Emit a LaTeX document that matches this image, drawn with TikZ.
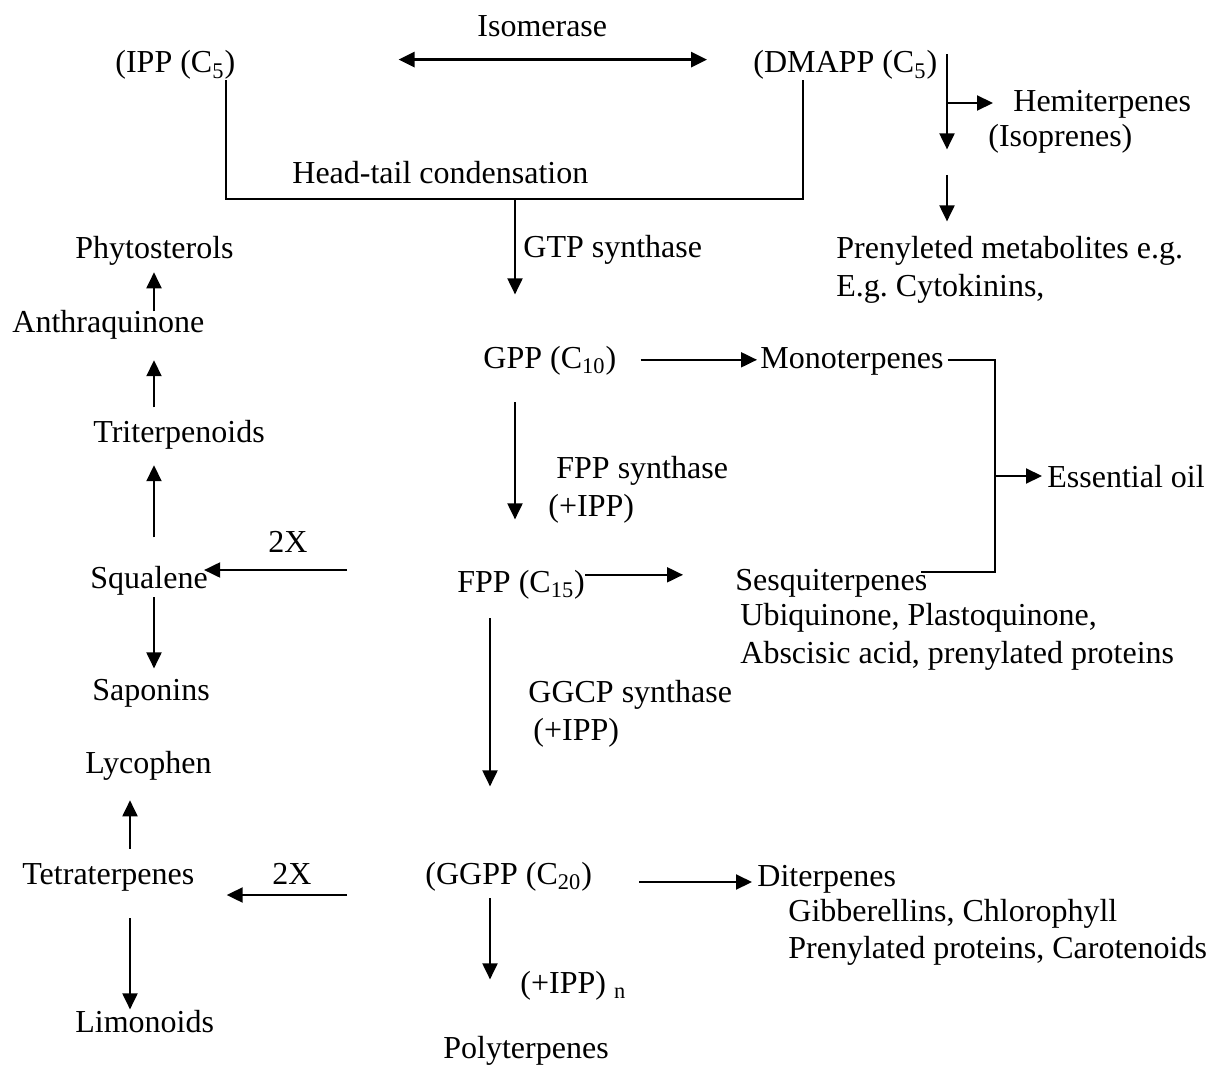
\documentclass[tikz,border=0pt]{standalone}
\usepackage{fontspec}
\setmainfont{Liberation Serif}
\usetikzlibrary{arrows.meta}
\frenchspacing

\begin{document}
\begin{tikzpicture}[x=0.5pt, y=-0.5pt,
	txt/.style={anchor=base west, inner sep=0pt, font=\fontsize{16pt}{19pt}\selectfont},
	arr/.style={-{Triangle[length=8pt, width=7.5pt]}, line width=1pt},
	ln/.style={line width=1pt}]
	\useasboundingbox (0,0) rectangle (1208,1075);

	% top row
	\node[txt] (iso)   at (477,37)  {Isomerase};
	\node[txt] (ipp)   at (115,73)  {(IPP (C\textsubscript{5})};
	\node[txt] (dmapp) at (753,73)  {(DMAPP (C\textsubscript{5})};
	\node[txt] (hemi)  at (1013,112) {Hemiterpenes};
	\node[txt] (isop)  at (988,147) {(Isoprenes)};
	\node[txt] (preny) at (836,258) {Prenyleted metabolites e.g.};
	\node[txt] (cyto)  at (836,296) {E.g. Cytokinins,};
	\node[txt] (htc)   at (292,184) {Head-tail condensation};
	\node[txt] (gtp)   at (523,257) {GTP synthase};

	% middle column
	\node[txt] (gpp)   at (483,368) {GPP (C\textsubscript{10})};
	\node[txt] (mono)  at (760,368) {Monoterpenes};
	\node[txt] (fpps)  at (556,478) {FPP synthase};
	\node[txt] (fppi)  at (548,516) {(+IPP)};
	\node[txt] (essoil) at (1047,487) {Essential oil};
	\node[txt] (fpp)   at (457,592) {FPP (C\textsubscript{15})};
	\node[txt] (sesq)  at (735,590) {Sesquiterpenes};
	\node[txt] (ubi)   at (740,625) {Ubiquinone, Plastoquinone,};
	\node[txt] (absc)  at (740,663) {Abscisic acid, prenylated proteins};
	\node[txt] (ggcp)  at (528,702) {GGCP synthase};
	\node[txt] (ggcpi) at (533,740) {(+IPP)};
	\node[txt] (ggpp)  at (425,884) {(GGPP (C\textsubscript{20})};
	\node[txt] (dit)   at (757,886) {Diterpenes};
	\node[txt] (gib)   at (788,921) {Gibberellins, Chlorophyll};
	\node[txt] (prot)  at (788,958) {Prenylated proteins, Carotenoids};
	\node[txt] (ipn)   at (520,993) {(+IPP)~\textsubscript{n}};
	\node[txt] (poly)  at (443,1058) {Polyterpenes};

	% left column
	\node[txt] (phyto) at (75,258)  {Phytosterols};
	\node[txt] (anth)  at (12,332)  {Anthraquinone};
	\node[txt] (tri)   at (93,442)  {Triterpenoids};
	\node[txt] (twoxa) at (268,552) {2X};
	\node[txt] (sq)    at (90,588)  {Squalene};
	\node[txt] (sap)   at (92,700)  {Saponins};
	\node[txt] (lyc)   at (85,773)  {Lycophen};
	\node[txt] (tetra) at (22,884)  {Tetraterpenes};
	\node[txt] (twoxb) at (272,884) {2X};
	\node[txt] (limo)  at (75,1032) {Limonoids};

	% junctions
	\coordinate (htL) at (226,199);
	\coordinate (htR) at (803,199);
	\coordinate (htM) at (515,199);
	\coordinate (hemiJ) at (947,103);
	\coordinate (eo) at (995,476);
	\coordinate (colA) at (154,0);
	\coordinate (colB) at (130,0);
	\coordinate (colC) at (515,0);
	\coordinate (colD) at (490,0);
	\coordinate (isoL) at ([yshift=4.4pt]ipp.mid east);
	\coordinate (isoR) at ([yshift=4.4pt]dmapp.mid west);
	\coordinate (gppR) at ([yshift=1.8pt]gpp.mid east);
	\coordinate (monoR) at ([xshift=2pt, yshift=1.8pt]mono.mid east);
	\coordinate (sesqR) at ([xshift=-3.5pt, yshift=-2pt]sesq.north east);
	\coordinate (fppR) at ([yshift=6.3pt]fpp.mid east);
	\coordinate (fppL) at ([yshift=11pt]fpp.base west);
	\coordinate (ggppR) at ([yshift=1pt]ggpp.base east);
	\coordinate (ggppL) at ([yshift=-5.5pt]ggpp.base west);

	% isomerase and condensation
	\draw[{Triangle[length=8pt, width=7.5pt]}-{Triangle[length=8pt, width=7.5pt]}, line width=1.4pt,
		shorten <=81.5pt, shorten >=23pt] (isoL) -- (isoR);
	\draw[ln] (ipp.south -| htL) -- (htL) -- (htR) -- (dmapp.south -| htR);
	\draw[arr, shorten >=25.5pt] (htM) -- (htM |- gpp.north);

	% DMAPP branches
	\draw[arr, shorten <=2pt] (hemiJ |- dmapp.north) -- ++(0,99);
	\draw[arr, shorten >=10pt] (hemiJ) -- (hemiJ -| hemi.west);
	\draw[arr, shorten <=36pt, shorten >=7pt] (hemiJ) -- (hemiJ |- preny.north);

	% GPP and FPP
	\draw[arr, shorten <=12pt, shorten >=1.5pt] (gppR) -- (gppR -| mono.west);
	\draw[arr, shorten <=13.5pt, shorten >=25pt] (colC |- gpp.south) -- (colC |- fpp.north);
	\draw[ln] (monoR) -| (eo) |- (sesqR);
	\draw[arr, shorten >=2.5pt] (eo) -- (eo -| essoil.west);
	\draw[arr, shorten >=26pt] (fppR) -- (fppR -| sesq.west);
	\draw[arr, shorten <=55pt, shorten >=-2pt] (fppL) -- (fppL -| sq.east);
	\draw[arr, shorten <=9.5pt, shorten >=37.5pt] (colD |- fpp.south) -- (colD |- ggpp.north);

	% GGPP
	\draw[arr, shorten <=23.5pt, shorten >=2.5pt] (ggppR) -- (ggppR -| dit.west);
	\draw[arr, shorten <=39pt, shorten >=16pt] (ggppL) -- (ggppL -| tetra.east);
	\draw[arr, shorten <=3.5pt, shorten >=28pt] (colD |- ggpp.south) -- (colD |- poly.north);

	% left side
	\draw[arr, shorten <=-1pt, shorten >=3.5pt] (colA |- anth.north) -- (colA |- phyto.south);
	\draw[arr, shorten <=6pt, shorten >=10.5pt] (colA |- tri.north) -- (colA |- anth.south);
	\draw[arr, shorten <=14pt, shorten >=8pt] (colA |- sq.north) -- (colA |- tri.south);
	\draw[arr, shorten <=1pt, shorten >=5pt] (colA |- sq.south) -- (colA |- sap.north);
	\draw[arr, shorten <=7pt, shorten >=10pt] (colB |- tetra.north) -- (colB |- lyc.south);
	\draw[arr, shorten <=13.5pt] (colB |- tetra.south) -- (colB |- limo.north);
\end{tikzpicture}
\end{document}
